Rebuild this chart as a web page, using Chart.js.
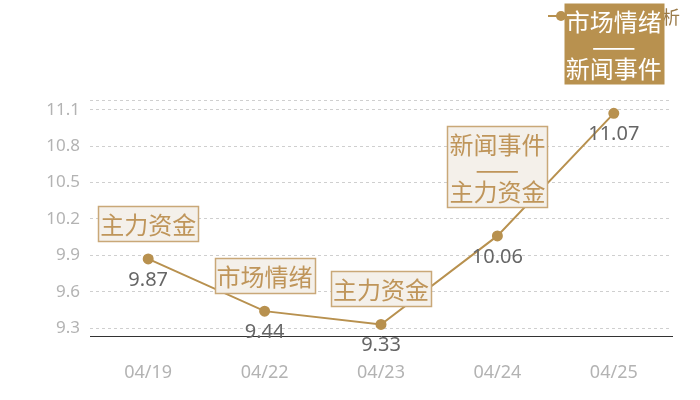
<!DOCTYPE html>
<html>
<head>
<meta charset="utf-8">
<script src="https://cdn.jsdelivr.net/npm/chart.js@4"></script>
<style>
  html, body { margin: 0; padding: 0; background: #fff; }
  #wrap { width: 700px; height: 400px; }
</style>
</head>
<body>
<div id="wrap"><canvas id="myChart"></canvas></div>
<script>
// chart data
const dates = ['04/19', '04/22', '04/23', '04/24', '04/25'];
const prices = [9.87, 9.44, 9.33, 10.06, 11.07];
const notes = [
    ['主力资金'],
    ['市场情绪'],
    ['主力资金'],
    ['新闻事件', '——', '主力资金'],
    ['市场情绪', '——', '新闻事件']
];
const highlighted = [false, false, false, false, true];
const yTicks = [9.3, 9.6, 9.9, 10.2, 10.5, 10.8, 11.1];
const yMin = 9.235;
const yMax = 11.18;
const seriesName = '价格走势分析';

const gold = '#b8914f';
const noteText = '#bf955a';
const cjk = '"Noto Sans CJK SC", "Noto Sans", sans-serif';
const latin = '"Noto Sans", "Noto Sans CJK SC", sans-serif';

// value labels, legend and note boxes
const notesPlugin = {
    id: 'notes',
    afterDatasetsDraw(chart) {
        const ctx = chart.ctx;
        const pts = chart.getDatasetMeta(0).data;
        ctx.save();

        // value labels under each point
        ctx.font = '20px ' + latin;
        ctx.fillStyle = '#666';
        ctx.textAlign = 'center';
        ctx.textBaseline = 'middle';
        pts.forEach((p, i) => {
            ctx.fillText(prices[i].toFixed(2), p.x, p.y + 21);
        });

        // legend (top right, mostly covered by the last box)
        ctx.strokeStyle = gold;
        ctx.lineWidth = 2;
        ctx.beginPath();
        ctx.moveTo(548, 16);
        ctx.lineTo(574, 16);
        ctx.stroke();
        ctx.beginPath();
        ctx.arc(561, 16, 5, 0, Math.PI * 2);
        ctx.fillStyle = gold;
        ctx.fill();
        ctx.font = '18px ' + cjk;
        ctx.fillStyle = '#9a7a48';
        ctx.textAlign = 'left';
        ctx.fillText(seriesName, 572, 17);

        // note boxes above each point
        pts.forEach((p, i) => {
            const lines = notes[i];
            const multi = lines.length > 1;
            const w = 100;
            const h = multi ? 81 : 35;
            const gap = multi ? 29 : 18;
            const x = Math.round(p.x - w / 2) + 0.5;
            const y = Math.round(p.y - gap - h) + 0.5;
            if (highlighted[i]) {
                ctx.fillStyle = gold;
                ctx.fillRect(x, y, w, h);
            } else {
                ctx.fillStyle = '#f4f0ea';
                ctx.fillRect(x, y, w, h);
                ctx.strokeStyle = '#c9a878';
                ctx.lineWidth = 1.5;
                ctx.strokeRect(x, y, w, h);
            }
            ctx.fillStyle = highlighted[i] ? '#fff' : noteText;
            ctx.textAlign = 'center';
            ctx.textBaseline = 'middle';
            const rows = multi ? [18, 43, 65] : [18];
            lines.forEach((t, k) => {
                ctx.font = (t.startsWith('—') ? '26px ' : '24px ') + cjk;
                ctx.fillText(t, p.x, y + rows[k]);
            });
        });
        ctx.restore();
    }
};

const ctx = document.getElementById('myChart').getContext('2d');

const myChart = new Chart(ctx, {
    type: 'line',
    data: {
        labels: dates,
        datasets: [{
            label: seriesName,
            data: prices,
            borderColor: gold,
            borderWidth: 2,
            backgroundColor: gold,
            pointRadius: 4.5,
            pointBorderColor: gold,
            pointBackgroundColor: gold,
            tension: 0,
            fill: false
        }]
    },
    options: {
        responsive: true,
        maintainAspectRatio: false,
        animation: false,
        layout: { padding: { top: 100, right: 28, left: 0, bottom: 0 } },
        plugins: {
            legend: { display: false },
            tooltip: { enabled: false }
        },
        scales: {
            x: {
                offset: true,
                grid: { display: false },
                border: { display: true, color: '#333', width: 1 },
                ticks: {
                    color: '#b3b3b3',
                    font: { size: 18, family: latin },
                    padding: 18
                },
                afterFit(scale) { scale.height = 64; }
            },
            y: {
                min: yMin,
                max: yMax,
                afterBuildTicks(scale) {
                    scale.ticks = [yMin].concat(yTicks, [yMax]).map(v => ({ value: v }));
                },
                afterFit(scale) { scale.width = 90; },
                border: { display: false, dash: [3, 3] },
                grid: {
                    drawTicks: false,
                    color: c => (c.tick && c.tick.value === yMin) ? 'rgba(0,0,0,0)' : '#cfcfcf',
                    lineWidth: 1
                },
                ticks: {
                    color: '#b3b3b3',
                    font: { size: 17, family: latin },
                    padding: 10,
                    callback: v => yTicks.includes(Math.round(v * 10) / 10) && Math.abs(v * 10 - Math.round(v * 10)) < 1e-6 ? String(v) : ''
                }
            }
        }
    },
    plugins: [notesPlugin]
});
</script>
</body>
</html>
